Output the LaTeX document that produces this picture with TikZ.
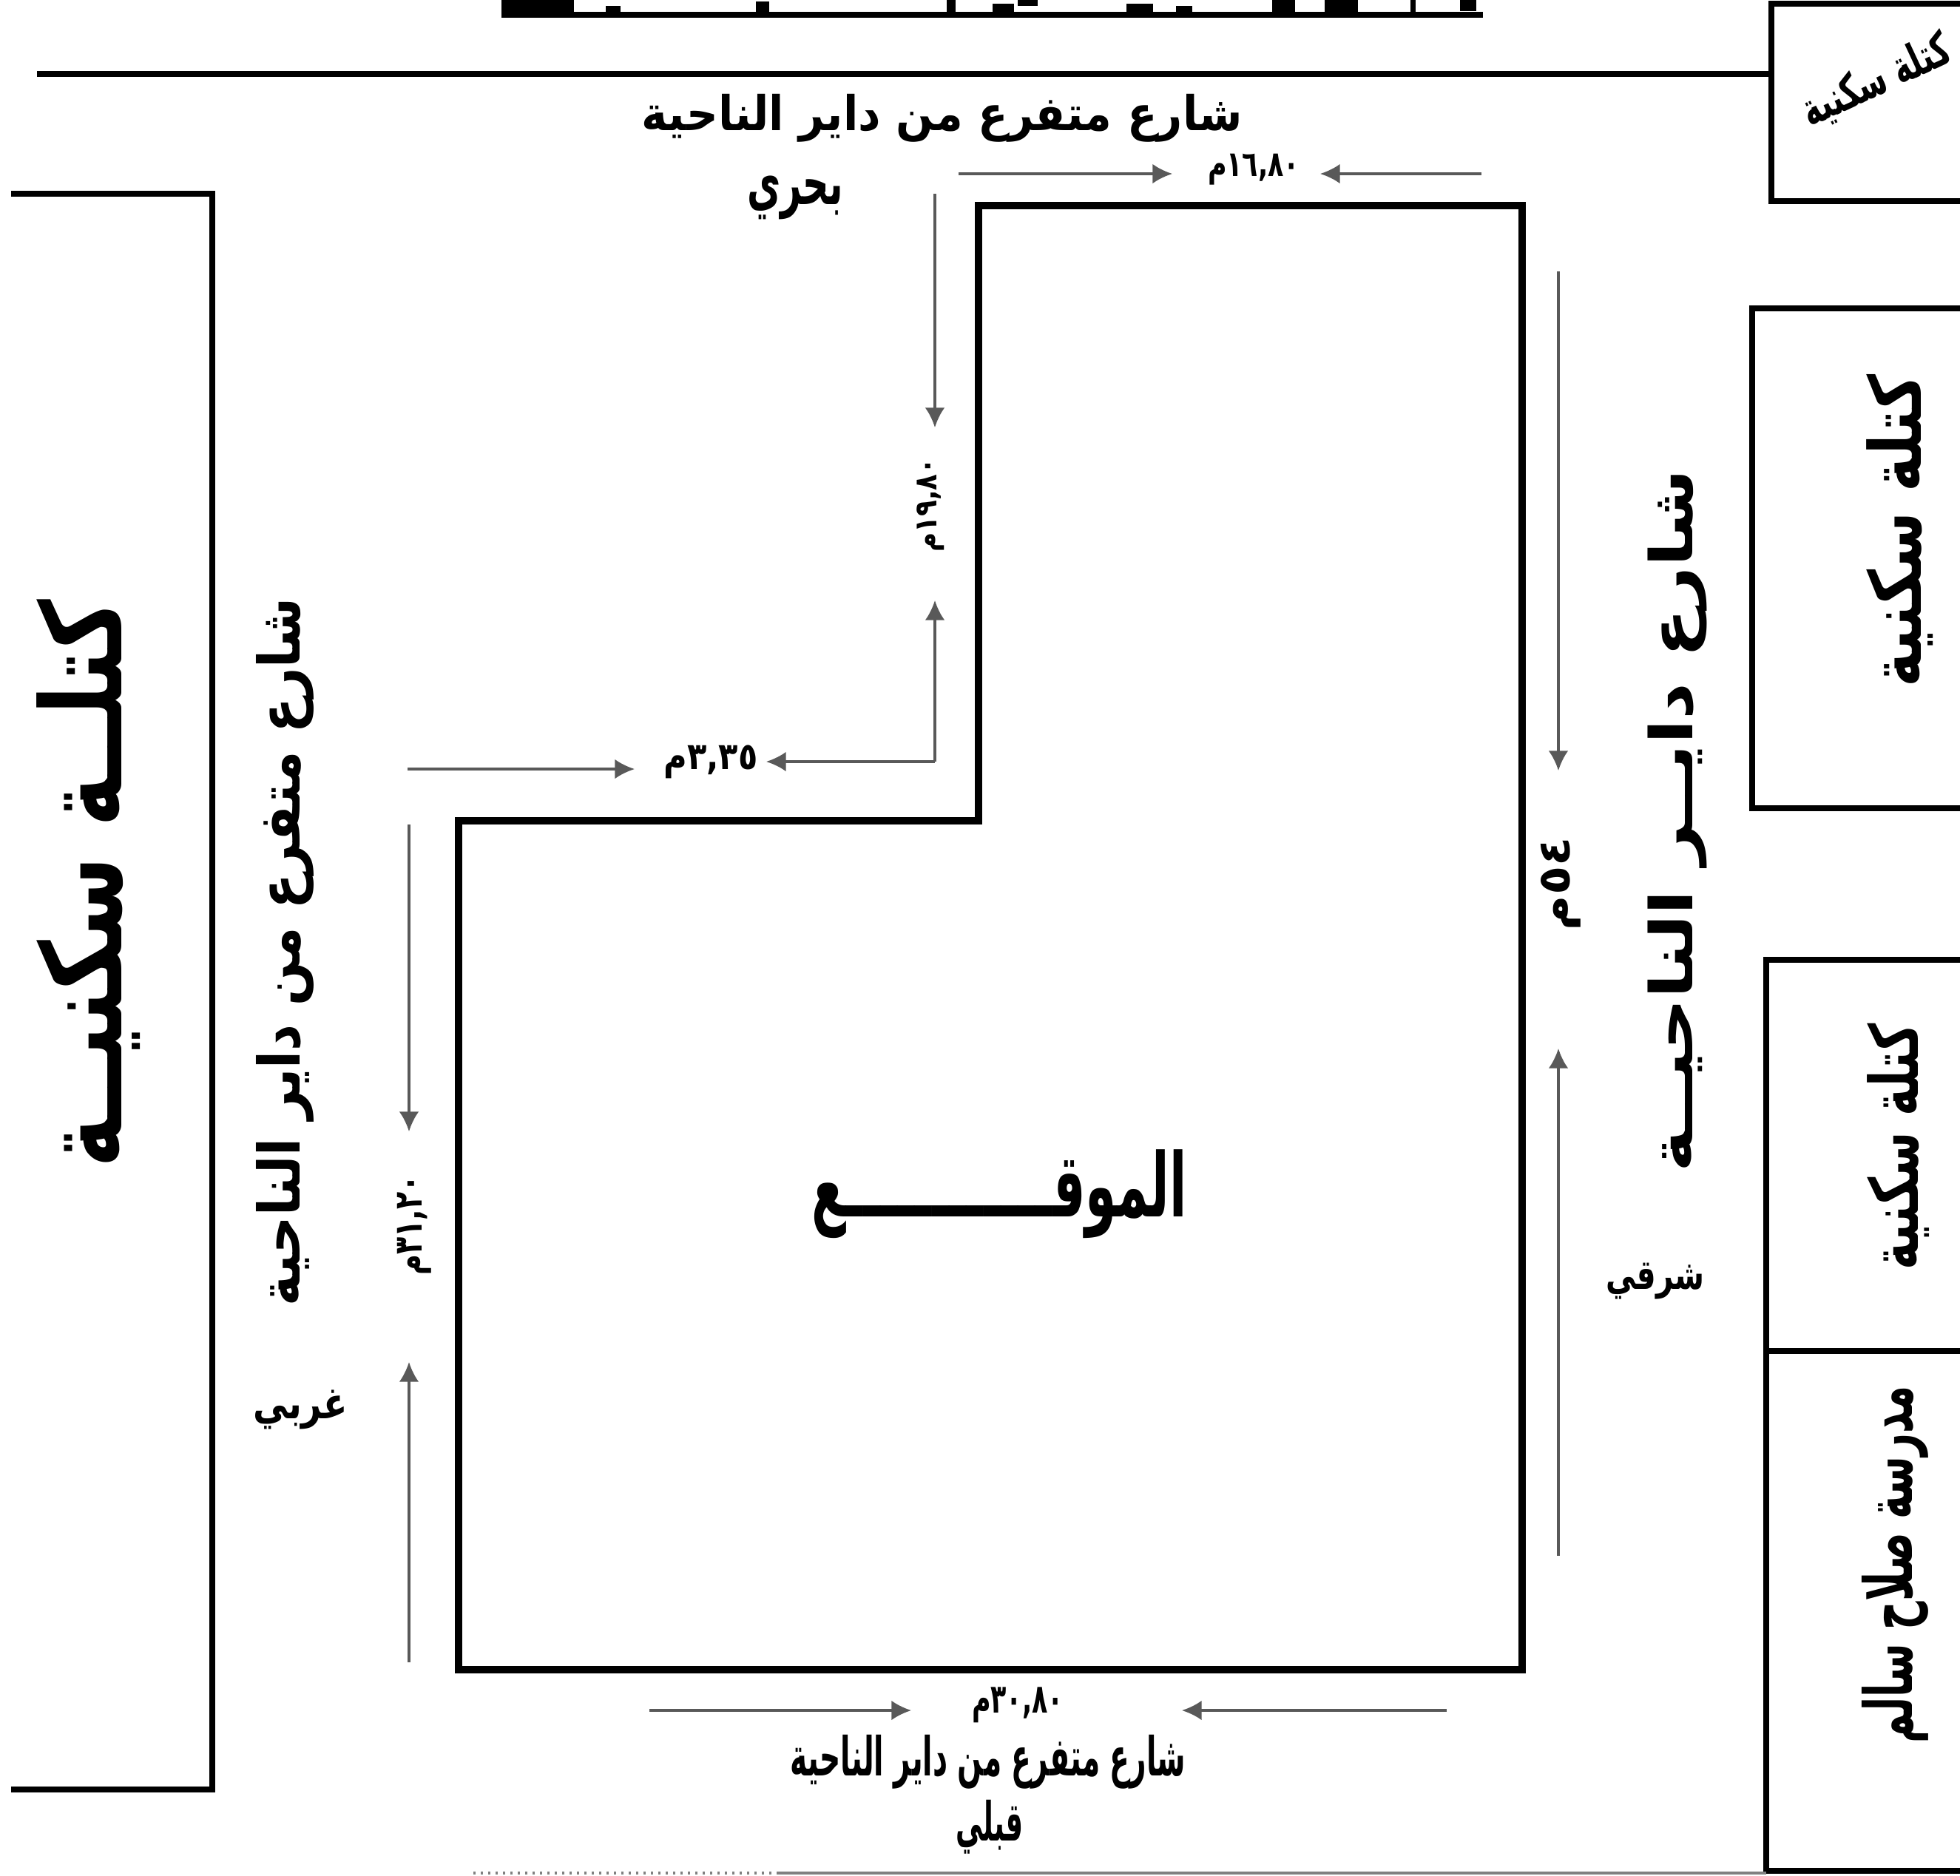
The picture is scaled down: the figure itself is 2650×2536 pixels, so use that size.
\documentclass[tikz,border=0pt]{standalone}
\usepackage{fontspec}
\usepackage{graphicx}
\usetikzlibrary{arrows.meta}
\TeXXeTstate=1
\newfontfamily\arabicfont[Script=Arabic]{DejaVu Sans}
\newlength{\pxu}\setlength{\pxu}{0.3pt}
% #1 width along the text, #2 total height (reference pixels), #3 Arabic text
\newcommand{\artext}[3]{\resizebox*{#1\pxu}{#2\pxu}{\arabicfont\bfseries\fontsize{20pt}{24pt}\selectfont #3}}
\tikzset{
  lbl/.style={inner sep=0pt,outer sep=0pt,text=black},
  wall/.style={draw=black,line width=3pt,line join=miter},
  block/.style={draw=black,line width=2.4pt,line join=miter},
  road/.style={draw=black,line width=2.4pt},
  dim/.style={draw=black!65,line width=1pt,-{Latex[length=8pt,width=8pt]}},
  frag/.style={fill=black,draw=none}
}
\begin{document}
\begin{tikzpicture}[x=0.3pt,y=-0.3pt]
\clip (0,0) rectangle (2650,2536);
\fill[white] (0,0) rectangle (2650,2536);

% top strip with text cut off by the picture edge
\draw[road] (678,20) -- (2005,20);
\foreach \xa/\ya/\xb/\yb in {678/0/776/22,819/8/839/22,1022/2/1040/20,1280/0/1292/20,1342/5/1371/22,1376/0/1403/8,1523/5/1559/22,1590/8/1612/22,1720/0/1751/22,1791/0/1836/22,1907/0/1914/20,1974/0/1996/15}
  \fill[frag] (\xa,\ya) rectangle (\xb,\yb);

% main road
\coordinate (roadL) at (50,100);
\coordinate (roadR) at (2395,100);
\draw[road] (roadL) -- (roadR);

% blocks
\draw[block] (15,262) -- (287,262) -- (287,2420) -- (15,2420);
\draw[block] (2660,5) -- (2395,5) -- (2395,272) -- (2660,272);
\draw[block] (2660,417) -- (2369,417) -- (2369,1093) -- (2660,1093);
\draw[block] (2660,1298) -- (2388,1298) -- (2388,1827) -- (2660,1827);
\draw[block] (2388,1827) -- (2388,2530) -- (2660,2530);

% site
\draw[wall] (1323,278) -- (2058,278) -- (2058,2258) -- (620,2258) -- (620,1110) -- (1323,1110) -- cycle;

% bottom edge line
\draw[draw=black!50,line width=1pt,dotted] (640,2533) -- (1050,2533);
\draw[draw=black!50,line width=1pt] (1050,2533) -- (2388,2533);

% block labels
\node[lbl,rotate=90] (bigblock) at (120,1195) {\artext{769}{140}{\beginR كتلــة  سكنيــة\endR}};
\node[lbl,rotate=25] (blockA) at (2537,110) {\artext{215}{58}{\beginR كتلة سكنية\endR}};
\node[lbl,rotate=90] (blockB) at (2569,718) {\artext{423}{90}{\beginR كتلة سكنية\endR}};
\node[lbl,rotate=90] (blockC) at (2567,1551) {\artext{333}{84}{\beginR كتلة سكنية\endR}};
\node[lbl,rotate=90] (school) at (2562,2116) {\artext{483}{90}{\beginR مدرسة صلاح سالم\endR}};

% street labels
\node[lbl] (streetT) at (1274,160) {\artext{812}{65}{\beginR شارع متفرع من داير الناحية\endR}};
\node[lbl] (north) at (1075,267) {\artext{130}{59}{\beginR بحري\endR}};
\node[lbl,rotate=90] (streetL) at (385,1287) {\artext{958}{78}{\beginR شارع متفرع من داير الناحية\endR}};
\node[lbl] (west) at (406,1906) {\artext{128}{53}{\beginR غربي\endR}};
\node[lbl,rotate=90] (streetR) at (2268,1110) {\artext{951}{80}{\beginR شارع  دايــر  الناحيــة\endR}};
\node[lbl] (east) at (2238,1733) {\artext{133}{49}{\beginR شرقي\endR}};
\node[lbl] (streetB) at (1336,2383) {\artext{535}{73}{\beginR شارع متفرع من داير الناحية\endR}};
\node[lbl] (south) at (1338,2471) {\artext{91}{73}{\beginR قبلي\endR}};
\node[lbl] (site) at (1351,1615) {\artext{507}{120}{\beginR الموقــــــــــــع\endR}};

% measures
\node[lbl] (mTop) at (1695,229) {\artext{124}{42}{\beginR\beginL ١٦,٨٠\endL{}م\endR}};
\node[lbl,rotate=90] (mStepV) at (1258,683) {\artext{127}{37}{\beginR\beginL ١٩,٨٠\endL{}م\endR}};
\node[lbl] (mStepH) at (961,1030) {\artext{127}{45}{\beginR\beginL ٣,٣٥\endL{}م\endR}};
\node[lbl,rotate=90] (mLeft) at (560,1657) {\artext{135}{46}{\beginR\beginL ٣١,٢٠\endL{}م\endR}};
\node[lbl,rotate=90] (mRight) at (2110,1195) {\artext{126}{54}{\beginR\beginL ٥٤\endL{}م\endR}};
\node[lbl] (mBottom) at (1376,2306) {\artext{124}{48}{\beginR\beginL ٣٠,٨٠\endL{}م\endR}};

% dimension lines
\coordinate (tL) at (1296,235); \coordinate (tLa) at (1585,235);
\coordinate (tR) at (2003,235); \coordinate (tRa) at (1785,235);
\draw[dim] (tL) -- (tLa);
\draw[dim] (tR) -- (tRa);

\coordinate (vT) at (1264,262); \coordinate (vTa) at (1264,578);
\coordinate (elbow) at (1264,1030); \coordinate (vBa) at (1264,812);
\coordinate (hRa) at (1036,1030);
\coordinate (hL) at (551,1040); \coordinate (hLa) at (858,1040);
\draw[dim] (vT) -- (vTa);
\draw[dim] (elbow) -- (vBa);
\draw[dim] (elbow) -- (hRa);
\draw[dim] (hL) -- (hLa);

\coordinate (rT) at (2107,367); \coordinate (rTa) at (2107,1042);
\coordinate (rB) at (2107,2104); \coordinate (rBa) at (2107,1418);
\draw[dim] (rT) -- (rTa);
\draw[dim] (rB) -- (rBa);

\coordinate (lT) at (553,1115); \coordinate (lTa) at (553,1530);
\coordinate (lB) at (553,2248); \coordinate (lBa) at (553,1842);
\draw[dim] (lT) -- (lTa);
\draw[dim] (lB) -- (lBa);

\coordinate (bL) at (878,2313); \coordinate (bLa) at (1232,2313);
\coordinate (bR) at (1956,2313); \coordinate (bRa) at (1598,2313);
\draw[dim] (bL) -- (bLa);
\draw[dim] (bR) -- (bRa);
\end{tikzpicture}
\end{document}
